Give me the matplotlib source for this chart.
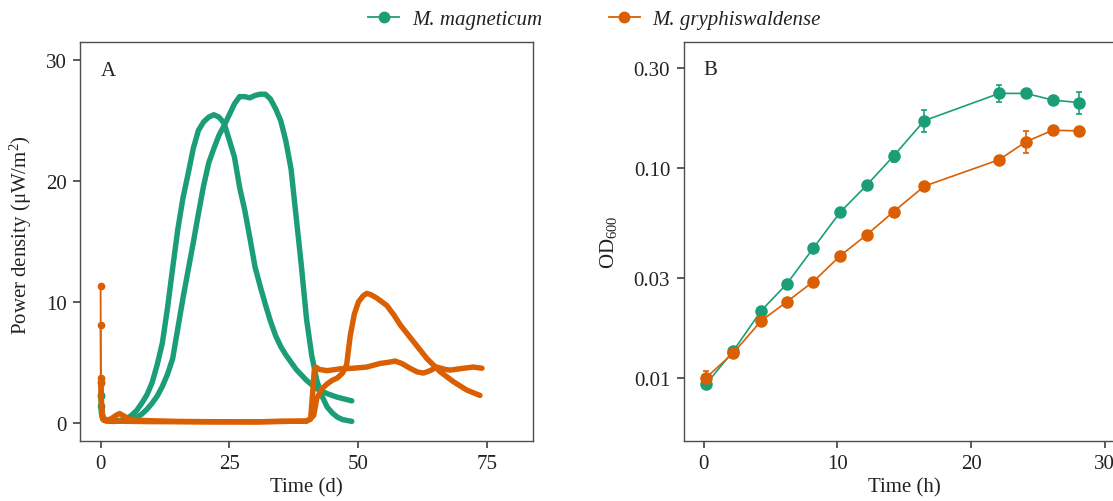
import numpy as np
import matplotlib
matplotlib.use("Agg")
import matplotlib.pyplot as plt
from matplotlib.lines import Line2D
from matplotlib.ticker import NullLocator

plt.rcParams['font.family'] = ['Liberation Serif', 'DejaVu Serif']
plt.rcParams['mathtext.fontset'] = 'custom'
plt.rcParams['mathtext.rm'] = 'Liberation Serif'
plt.rcParams['mathtext.it'] = 'Liberation Serif:italic'
plt.rcParams['font.size'] = 15

GREEN = "#1B9E77"
ORANGE = "#D95F02"
AXCOL = "#4D4D4D"
TXTCOL = "#222222"

species = ["M. magneticum", "M. gryphiswaldense"]

# ---- panel A: power density (uW/m2) vs time (d), two runs per strain
mm1_t = [0, 0.05, 0.15, 0.4, 1, 2, 3, 4, 5, 6, 7, 8, 9, 10, 11, 12, 13, 14, 15, 16,
         17, 18, 19, 20, 21, 22, 23, 24, 25, 26, 27, 28, 29, 30, 31, 32, 33, 34, 35,
         36, 37, 38, 40, 42, 44, 46, 48.8]
mm1_y = [3.4, 2.3, 1.5, 0.5, 0.2, 0.15, 0.15, 0.2, 0.3, 0.6, 1.0, 1.6, 2.3, 3.3, 4.8,
         6.6, 9.5, 12.8, 16.0, 18.6, 20.6, 22.7, 24.2, 24.9, 25.3, 25.5, 25.3, 24.8,
         23.4, 22.0, 19.5, 17.6, 15.3, 12.9, 11.3, 9.8, 8.4, 7.2, 6.3, 5.6, 5.0, 4.4,
         3.5, 2.8, 2.4, 2.1, 1.8]

mm2_t = [0, 0.05, 0.15, 0.4, 1, 2, 3, 4, 5, 6, 7, 8, 9, 10, 11, 12, 13, 14, 15, 16,
         17, 18, 19, 20, 21, 22, 23, 24, 25, 26, 27, 28, 29, 30, 31, 32, 33, 34, 35,
         36, 37, 38, 39, 40, 41, 42, 43, 44, 45, 46, 47, 48.8]
mm2_y = [2.2, 1.4, 0.8, 0.3, 0.15, 0.1, 0.1, 0.15, 0.2, 0.3, 0.45, 0.7, 1.1, 1.6, 2.2,
         3.0, 4.0, 5.3, 7.8, 10.3, 12.6, 14.9, 17.3, 19.6, 21.5, 22.7, 23.8, 24.6,
         25.5, 26.4, 27.0, 27.0, 26.9, 27.1, 27.2, 27.2, 26.8, 26.0, 25.0, 23.3, 21.0,
         17.0, 13.0, 8.6, 5.6, 3.5, 2.2, 1.3, 0.8, 0.45, 0.25, 0.1]

mg1_t = [0, 0.05, 0.15, 0.3, 0.6, 1, 2, 3, 3.7, 4.5, 5.5, 7, 10, 15, 20, 25, 30, 35,
         40, 40.7, 41.4, 42, 43, 44, 45, 46, 47, 47.8, 48.5, 49.3, 50.1, 51, 51.7,
         52.5, 53.7, 55.6, 57, 58.2, 60.8, 63.4, 66, 68.5, 71.1, 73.7]
mg1_y = [11.3, 3.7, 2.0, 0.8, 0.3, 0.2, 0.3, 0.6, 0.75, 0.55, 0.3, 0.2, 0.15, 0.1,
         0.08, 0.07, 0.06, 0.1, 0.12, 0.3, 0.6, 2.0, 2.8, 3.2, 3.5, 3.7, 4.1, 4.8,
         7.2, 9.0, 10.0, 10.5, 10.7, 10.6, 10.3, 9.7, 8.9, 8.1, 6.7, 5.3, 4.2, 3.4,
         2.7, 2.25]

mg2_t = [0, 0.05, 0.15, 0.3, 0.6, 1, 3, 6, 10, 15, 20, 25, 30, 35, 40, 40.8, 41.2,
         41.5, 41.8, 42.5, 44, 46.5, 49, 51.7, 54.3, 56, 57.2, 58.5, 60.1, 61.5,
         62.7, 64, 65.3, 67, 67.9, 70.5, 72.4, 74.1]
mg2_y = [8.1, 3.3, 1.5, 0.5, 0.2, 0.15, 0.12, 0.1, 0.08, 0.07, 0.06, 0.06, 0.06, 0.1,
         0.12, 0.3, 2.5, 4.3, 4.6, 4.4, 4.3, 4.45, 4.5, 4.6, 4.9, 5.0, 5.1, 4.9, 4.5,
         4.2, 4.1, 4.3, 4.6, 4.4, 4.35, 4.5, 4.6, 4.5]

# ---- panel B: growth curves (OD600, mean +- sd)
time_h = [0.17, 2.2, 4.3, 6.2, 8.2, 10.2, 12.2, 14.2, 16.5, 22.1, 24.1, 26.1, 28.1]
od_mm = [0.0093, 0.0134, 0.0209, 0.0280, 0.0416, 0.0617, 0.0832, 0.1146, 0.169,
         0.228, 0.228, 0.212, 0.206]
sd_mm = [0.0004, 0.0005, 0.0006, 0.0008, 0.001, 0.0015, 0.002, 0.007, 0.02, 0.021,
         0.01, 0.006, 0.025]
od_mg = [0.0100, 0.0131, 0.0187, 0.0230, 0.0288, 0.0382, 0.0482, 0.0621, 0.0822,
         0.110, 0.134, 0.152, 0.151]
sd_mg = [0.0008, 0.0005, 0.0006, 0.0006, 0.0008, 0.001, 0.0012, 0.0015, 0.002,
         0.004, 0.016, 0.004, 0.003]


def draw_trace(ax, t, y, color):
    t = np.asarray(t)
    y = np.asarray(y)
    # sparse first readings: thin line with dots, dense logging: thick trace
    ax.plot(t[:2], y[:2], color=color, lw=1.3, marker='o', ms=4.5)
    ax.plot(t[1:], y[1:], color=color, lw=3.9,
            solid_joinstyle='round', solid_capstyle='round')


def style_axes(ax):
    for sp in ax.spines.values():
        sp.set_color(AXCOL)
        sp.set_linewidth(1.0)
    ax.tick_params(direction='out', length=4.7, width=1.3, color=AXCOL,
                   labelcolor=TXTCOL, labelsize=15, pad=5)


fig = plt.figure(figsize=(11.13, 5.02), dpi=100)
W, H = 1113.0, 502.0
axA = fig.add_axes([80 / W, (H - 441.7) / H, 453 / W, 398.4 / H])
axB = fig.add_axes([683.7 / W, (H - 441.7) / H, 441.2 / W, 398.4 / H])

# panel A
draw_trace(axA, mm1_t, mm1_y, GREEN)
draw_trace(axA, mm2_t, mm2_y, GREEN)
draw_trace(axA, mg1_t, mg1_y, ORANGE)
draw_trace(axA, mg2_t, mg2_y, ORANGE)
axA.set_xlim(-4, 84)
axA.set_ylim(-1.5, 31.5)
axA.set_xticks([0, 25, 50, 75])
axA.set_yticks([0, 10, 20, 30])
axA.set_xlabel("Time (d)", color=TXTCOL, labelpad=3)
axA.set_ylabel("Power density (\u03bcW/m$^{2}$)", color=TXTCOL)
axA.yaxis.set_label_coords(-0.102, 0.52)
axA.text(0.063, 0.929, "A", transform=axA.transAxes, ha='center', va='center',
         fontsize=15, color=TXTCOL)
style_axes(axA)

# panel B
axB.errorbar(time_h, od_mm, yerr=sd_mm, color=GREEN, marker='o', ms=8, lw=1.2,
             elinewidth=1.2, capsize=2.5, capthick=1.2)
axB.errorbar(time_h, od_mg, yerr=sd_mg, color=ORANGE, marker='o', ms=8, lw=1.2,
             elinewidth=1.2, capsize=2.5, capthick=1.2)
axB.set_yscale('log')
axB.set_xlim(-1.5, 31.5)
axB.set_ylim(0.005, 0.4)
axB.set_xticks([0, 10, 20, 30])
axB.set_yticks([0.01, 0.03, 0.10, 0.30])
axB.set_yticklabels(["0.01", "0.03", "0.10", "0.30"])
axB.yaxis.set_minor_locator(NullLocator())
axB.set_xlabel("Time (h)", color=TXTCOL, labelpad=3)
axB.set_ylabel("OD$_{600}$", color=TXTCOL)
axB.yaxis.set_label_coords(-0.147, 0.5)
axB.text(0.061, 0.931, "B", transform=axB.transAxes, ha='center', va='center',
         fontsize=15, color=TXTCOL)
style_axes(axB)

handles = [Line2D([0], [0], color=c, lw=1.3, marker='o', ms=7.5) for c in (GREEN, ORANGE)]
fig.legend(handles, species, loc='center', bbox_to_anchor=(0.534, 0.96), ncol=2,
           frameon=False, handlelength=1.5, handletextpad=0.6, columnspacing=3.2,
           prop={'family': 'Liberation Serif', 'style': 'italic', 'size': 15},
           labelcolor=TXTCOL)

fig.savefig("out.png", dpi=100)
